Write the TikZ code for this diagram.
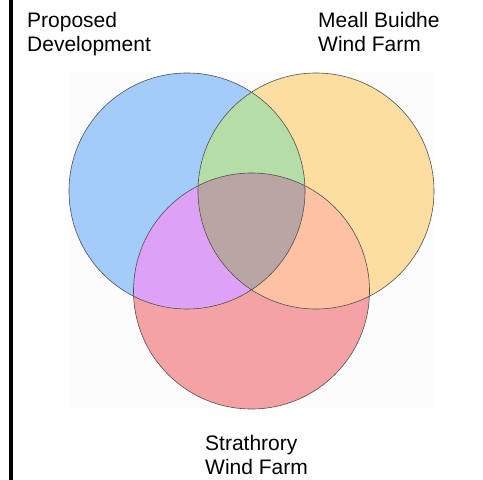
\documentclass[tikz,border=0pt]{standalone}
\usepackage{fontspec}
\setmainfont{Liberation Sans}
\definecolor{cblue}{HTML}{A3CCFA}
\definecolor{corange}{HTML}{FCDFA0}
\definecolor{cred}{HTML}{F4A2A4}
\definecolor{cgreen}{HTML}{B5DDA8}
\definecolor{cpurple}{HTML}{DDA2F5}
\definecolor{cpeach}{HTML}{FDC2A4}
\definecolor{cbrown}{HTML}{B9A6A4}
\definecolor{cbg}{HTML}{FCFCFC}
\definecolor{cedge}{HTML}{505050}
\begin{document}
\begin{tikzpicture}[x=1pt,y=-1pt,
  lbl/.style={inner sep=0pt,anchor=base west,align=left,font=\fontsize{21}{24}\selectfont},
  outline/.style={draw=cedge,line width=0.6pt}]
\useasboundingbox (0,0) rectangle (483,480);
\fill[white] (0,0) rectangle (483,480);
\fill[cbg] (69,72) rectangle (434,409);
\draw[line width=4pt] (11,0) -- (11,480);
\def\rr{118}
\coordinate (B) at (187,191);
\coordinate (O) at (316,191);
\coordinate (R) at (251.5,291);
% single fills
\fill[cblue] (B) circle (\rr);
\fill[corange] (O) circle (\rr);
\fill[cred] (R) circle (\rr);
% pairwise
\begin{scope}
  \clip (B) circle (\rr);
  \fill[cgreen] (O) circle (\rr);
  \fill[cpurple] (R) circle (\rr);
\end{scope}
\begin{scope}
  \clip (O) circle (\rr);
  \fill[cpeach] (R) circle (\rr);
\end{scope}
\begin{scope}
  \clip (B) circle (\rr);
  \clip (O) circle (\rr);
  \fill[cbrown] (R) circle (\rr);
\end{scope}
\draw[outline] (B) circle (\rr);
\draw[outline] (O) circle (\rr);
\draw[outline] (R) circle (\rr);
\node[lbl] (pd) at (27,51) {Proposed\\Development};
\node[lbl] (mb) at (318,51) {Meall Buidhe\\Wind Farm};
\node[lbl] (st) at (205,474) {Strathrory\\Wind Farm};
\end{tikzpicture}
\end{document}
